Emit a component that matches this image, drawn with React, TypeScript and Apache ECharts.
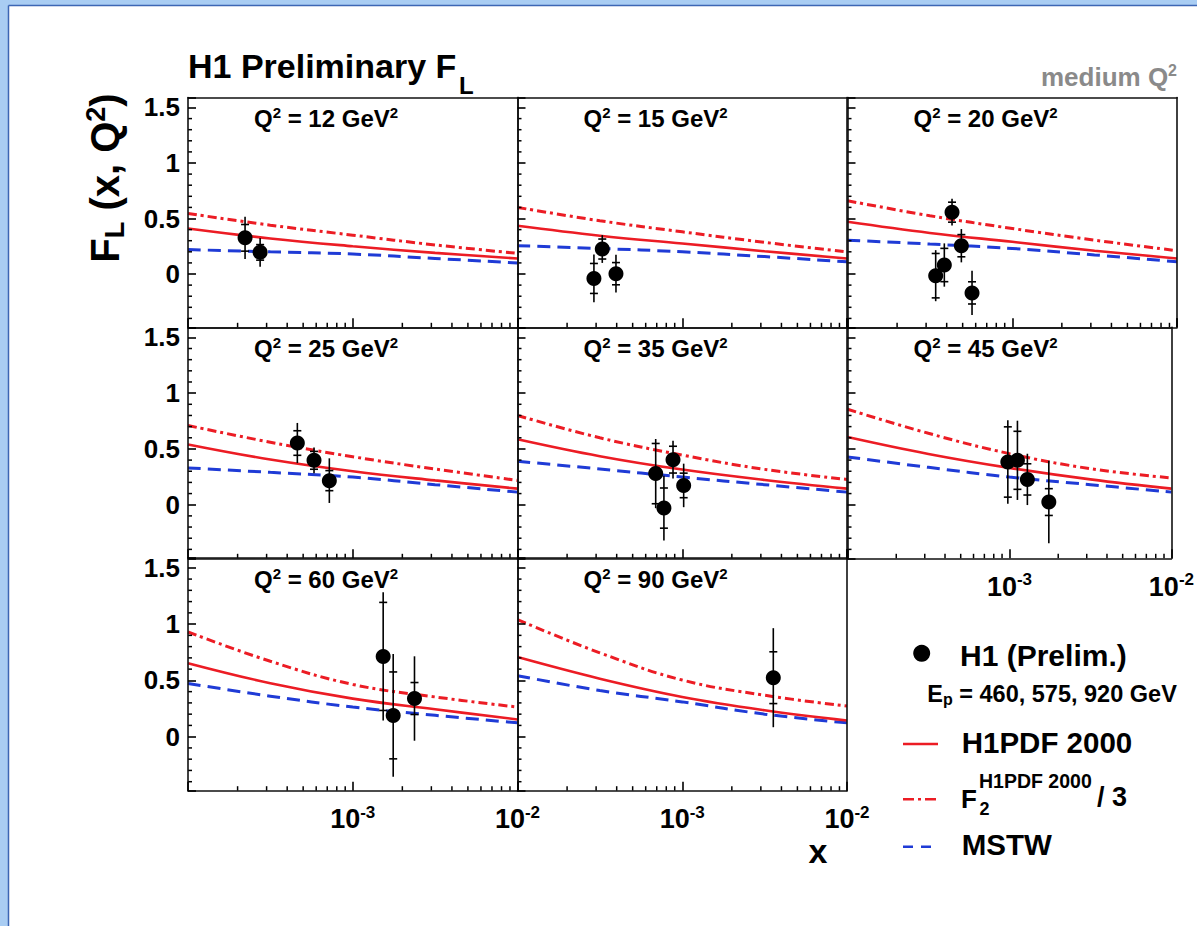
import React, { useEffect, useRef } from 'react';
import * as echarts from 'echarts';

const FONT = '"Liberation Sans", Arial, Helvetica, sans-serif';
const RED = '#ec1c24';
const BLUE = '#1f3bd6';

const q2Values = [12, 15, 20, 25, 35, 45, 60, 90];

// H1 preliminary points: [x, F_L, stat. error, total error]
const h1Q12 = [[2.22e-4, 0.326, 0.12, 0.19], [2.74e-4, 0.195, 0.07, 0.13]];
const h1Q15 = [[2.91e-4, -0.04, 0.135, 0.215], [3.27e-4, 0.225, 0.09, 0.125], [3.96e-4, 0.003, 0.1, 0.17]];
const h1Q20 = [[3.43e-4, -0.015, 0.2, 0.23], [3.87e-4, 0.081, 0.15, 0.195], [4.31e-4, 0.557, 0.09, 0.12], [4.91e-4, 0.255, 0.1, 0.15], [5.7e-4, -0.17, 0.1, 0.2]];
const h1Q25 = [[4.61e-4, 0.553, 0.11, 0.18], [5.82e-4, 0.398, 0.08, 0.115], [7.21e-4, 0.216, 0.09, 0.2]];
const h1Q35 = [[6.9e-4, 0.279, 0.27, 0.31], [7.74e-4, -0.03, 0.18, 0.29], [8.79e-4, 0.404, 0.12, 0.17], [1.02e-3, 0.173, 0.11, 0.195]];
const h1Q45 = [[9.77e-4, 0.383, 0.315, 0.375], [1.12e-3, 0.398, 0.26, 0.355], [1.29e-3, 0.227, 0.14, 0.23], [1.75e-3, 0.024, 0.12, 0.37]];
const h1Q60 = [[1.53e-3, 0.713, 0.48, 0.57], [1.76e-3, 0.189, 0.386, 0.545], [2.37e-3, 0.339, 0.142, 0.375]];
const h1Q90 = [[3.57e-3, 0.524, 0.23, 0.44]];

// theory curves sampled at curveX
const curveX = [1e-4, 3.16e-4, 1e-3, 3.16e-3, 1e-2];
const h1pdfQ12 = [0.41, 0.32, 0.25, 0.19, 0.14];
const h1pdfQ15 = [0.434, 0.345, 0.275, 0.205, 0.14];
const h1pdfQ20 = [0.47, 0.37, 0.29, 0.21, 0.14];
const h1pdfQ25 = [0.54, 0.405, 0.3, 0.218, 0.144];
const h1pdfQ35 = [0.587, 0.435, 0.315, 0.222, 0.144];
const h1pdfQ45 = [0.607, 0.455, 0.33, 0.227, 0.144];
const h1pdfQ60 = [0.653, 0.475, 0.338, 0.243, 0.153];
const h1pdfQ90 = [0.707, 0.515, 0.353, 0.235, 0.144];

const f2ThirdQ12 = [0.545, 0.44, 0.35, 0.262, 0.186];
const f2ThirdQ15 = [0.6, 0.48, 0.38, 0.285, 0.2];
const f2ThirdQ20 = [0.66, 0.525, 0.41, 0.305, 0.21];
const f2ThirdQ25 = [0.71, 0.56, 0.43, 0.32, 0.218];
const f2ThirdQ35 = [0.8, 0.6, 0.445, 0.317, 0.227];
const f2ThirdQ45 = [0.856, 0.64, 0.458, 0.323, 0.24];
const f2ThirdQ60 = [0.93, 0.67, 0.464, 0.353, 0.263];
const f2ThirdQ90 = [1.04, 0.745, 0.503, 0.368, 0.272];

const mstwQ12 = [0.22, 0.2, 0.18, 0.14, 0.1];
const mstwQ15 = [0.255, 0.23, 0.2, 0.157, 0.11];
const mstwQ20 = [0.305, 0.27, 0.23, 0.172, 0.11];
const mstwQ25 = [0.33, 0.29, 0.248, 0.18, 0.113];
const mstwQ35 = [0.39, 0.32, 0.248, 0.18, 0.113];
const mstwQ45 = [0.428, 0.335, 0.248, 0.18, 0.113];
const mstwQ60 = [0.473, 0.36, 0.263, 0.19, 0.123];
const mstwQ90 = [0.542, 0.41, 0.309, 0.2, 0.123];

const xMinorTicks = [2e-4, 3e-4, 4e-4, 5e-4, 6e-4, 7e-4, 8e-4, 9e-4, 2e-3, 3e-3, 4e-3, 5e-3, 6e-3, 7e-3, 8e-3, 9e-3];
const yMinorTicks = [-0.4, -0.3, -0.2, -0.1, 0.1, 0.2, 0.3, 0.4, 0.6, 0.7, 0.8, 0.9, 1.1, 1.2, 1.3, 1.4];

const X_MIN = 1e-4;
const X_MAX = 1e-2;
const Y_MIN = -0.48;
const Y_MAX = 1.59;

const panelPoints = [h1Q12, h1Q15, h1Q20, h1Q25, h1Q35, h1Q45, h1Q60, h1Q90];
const panelH1pdf = [h1pdfQ12, h1pdfQ15, h1pdfQ20, h1pdfQ25, h1pdfQ35, h1pdfQ45, h1pdfQ60, h1pdfQ90];
const panelF2 = [f2ThirdQ12, f2ThirdQ15, f2ThirdQ20, f2ThirdQ25, f2ThirdQ35, f2ThirdQ45, f2ThirdQ60, f2ThirdQ90];
const panelMstw = [mstwQ12, mstwQ15, mstwQ20, mstwQ25, mstwQ35, mstwQ45, mstwQ60, mstwQ90];

const colLeft = [188, 517.5, 847.5];
const colWidth = 329.5;
const rowTop = [97.5, 327.3, 557.7];
const rowHeight = [229.8, 231, 233];

function txt(x: number, y: number, text: string, size: number, extra: any = {}) {
  return {
    type: 'text',
    x,
    y,
    silent: true,
    style: {
      text,
      fill: '#000',
      fontSize: size,
      fontWeight: 'bold',
      fontFamily: FONT,
      align: 'left',
      verticalAlign: 'middle',
      textAlign: 'left',
      textVerticalAlign: 'middle',
      ...extra,
    },
  };
}

export default function App() {
  const ref = useRef<HTMLDivElement>(null);
  useEffect(() => {
    if (!ref.current) return;
    const chart = echarts.init(ref.current, null, { renderer: 'svg' });
    const grids: any[] = [];
    const xAxes: any[] = [];
    const yAxes: any[] = [];
    const series: any[] = [];
    const graphics: any[] = [];

    const tickStyle = { color: '#000', width: 1.6 };
    const frameLine = { show: true, onZero: false, lineStyle: { color: '#111', width: 1.6 } };
    const n = q2Values.length;

    q2Values.forEach((q2, i) => {
      const r = Math.floor(i / 3);
      const c = i % 3;
      grids.push({
        left: colLeft[c],
        top: rowTop[r],
        width: colWidth,
        height: rowHeight[r],
        show: false,
      });
      const showX = r === 2 || i === 5;
      xAxes[i] = {
        type: 'log',
        logBase: 10,
        min: X_MIN,
        max: X_MAX,
        gridIndex: i,
        position: 'bottom',
        z: 6,
        axisLine: frameLine,
        splitLine: { show: false },
        axisTick: { show: true, inside: true, length: 9, lineStyle: tickStyle },
        axisLabel: {
          show: showX,
          margin: 13,
          formatter: (v: number) => {
            const e = Math.round(Math.log10(v));
            if (e <= -4) return '';
            return `{b|10}{s|${e}}`;
          },
          rich: {
            b: { fontSize: 27, fontWeight: 'bold', fontFamily: FONT, color: '#000', lineHeight: 31 },
            s: { fontSize: 17, fontWeight: 'bold', fontFamily: FONT, color: '#000', lineHeight: 16, verticalAlign: 'top' },
          },
        },
      };
      // top frame edge
      xAxes[n + i] = {
        type: 'value',
        min: 0,
        max: 1,
        gridIndex: i,
        position: 'top',
        z: 6,
        axisLine: frameLine,
        axisTick: { show: false },
        axisLabel: { show: false },
        splitLine: { show: false },
      };
      yAxes[i] = {
        type: 'value',
        min: Y_MIN,
        max: Y_MAX,
        splitNumber: 4,
        gridIndex: i,
        position: 'left',
        z: 6,
        axisLine: frameLine,
        splitLine: { show: false },
        axisTick: { show: true, inside: true, length: 8, lineStyle: tickStyle },
        axisLabel: {
          show: c === 0,
          margin: 8,
          padding: [5, 0, 0, 0],
          fontSize: 26,
          fontWeight: 'bold',
          fontFamily: FONT,
          color: '#000',
          formatter: (v: number) => {
            const rr = Math.round(v * 2) / 2;
            if (Math.abs(v - rr) > 1e-6) return '';
            return String(rr);
          },
        },
      };
      // right frame edge
      yAxes[n + i] = {
        type: 'value',
        min: 0,
        max: 1,
        gridIndex: i,
        position: 'right',
        z: 6,
        axisLine: frameLine,
        axisTick: { show: false },
        axisLabel: { show: false },
        splitLine: { show: false },
      };

      const ax = { xAxisIndex: i, yAxisIndex: i };
      // minor ticks (log decades on x, 0.1 steps on y)
      series.push({
        type: 'custom',
        ...ax,
        silent: true,
        clip: false,
        z: 6,
        encode: { x: 0, y: 1 },
        data: xMinorTicks.map((v) => [v, 0.5]),
        renderItem: (params: any, api: any) => {
          const pt = api.coord([api.value(0), api.value(1)]);
          const cs = params.coordSys;
          const yb = cs.y + cs.height;
          return {
            type: 'line',
            shape: { x1: pt[0], y1: yb, x2: pt[0], y2: yb - 4.5 },
            style: { stroke: '#000', lineWidth: 1.5 },
          };
        },
      });
      series.push({
        type: 'custom',
        ...ax,
        silent: true,
        clip: false,
        z: 6,
        encode: { x: 0, y: 1 },
        data: yMinorTicks.map((v) => [1e-3, v]),
        renderItem: (params: any, api: any) => {
          const pt = api.coord([api.value(0), api.value(1)]);
          const cs = params.coordSys;
          const xl = cs.x;
          return {
            type: 'line',
            shape: { x1: xl, y1: pt[1], x2: xl + 4, y2: pt[1] },
            style: { stroke: '#000', lineWidth: 1.5 },
          };
        },
      });
      // theory curves
      series.push({
        type: 'line',
        ...ax,
        data: curveX.map((x, k) => [x, panelMstw[i][k]]),
        smooth: 0.4,
        showSymbol: false,
        symbol: 'none',
        lineStyle: { color: BLUE, width: 3, type: [13, 7] },
        z: 2,
      });
      series.push({
        type: 'line',
        ...ax,
        data: curveX.map((x, k) => [x, panelF2[i][k]]),
        smooth: 0.4,
        showSymbol: false,
        symbol: 'none',
        lineStyle: { color: RED, width: 3, type: [9, 4, 3, 4] },
        z: 2,
      });
      series.push({
        type: 'line',
        ...ax,
        data: curveX.map((x, k) => [x, panelH1pdf[i][k]]),
        smooth: 0.4,
        showSymbol: false,
        symbol: 'none',
        lineStyle: { color: RED, width: 2.6 },
        z: 2,
      });
      // error bars
      series.push({
        type: 'custom',
        ...ax,
        silent: true,
        z: 3,
        data: panelPoints[i],
        encode: { x: 0, y: 1 },
        renderItem: (_p: any, api: any) => {
          const x = api.value(0);
          const y = api.value(1);
          const st = api.value(2);
          const tot = api.value(3);
          const t = api.coord([x, y + tot]);
          const b = api.coord([x, y - tot]);
          const s1 = api.coord([x, y + st]);
          const s2 = api.coord([x, y - st]);
          const style = { stroke: '#000', lineWidth: 1.6 };
          return {
            type: 'group',
            children: [
              { type: 'line', shape: { x1: t[0], y1: t[1], x2: b[0], y2: b[1] }, style },
              { type: 'line', shape: { x1: s1[0] - 4, y1: s1[1], x2: s1[0] + 4, y2: s1[1] }, style },
              { type: 'line', shape: { x1: s2[0] - 4, y1: s2[1], x2: s2[0] + 4, y2: s2[1] }, style },
            ],
          };
        },
      });
      series.push({
        type: 'scatter',
        ...ax,
        data: panelPoints[i].map((p) => [p[0], p[1]]),
        symbol: 'circle',
        symbolSize: 15,
        itemStyle: { color: '#000', opacity: 1 },
        z: 4,
      });

      const labelY = [118, 348.5, 579][r];
      graphics.push(
        txt(colLeft[c] + 66, labelY, `{a|Q}{s|2}{a| = ${q2} GeV}{s|2}`, 24, {
          rich: {
            a: { fontSize: 24, fontWeight: 'bold', fontFamily: FONT, fill: '#000', lineHeight: 27 },
            s: { fontSize: 15, fontWeight: 'bold', fontFamily: FONT, fill: '#000', lineHeight: 18, verticalAlign: 'top' },
          },
        })
      );
    });

    // page frame
    const bg = [
      { type: 'rect', shape: { x: 0, y: 0, width: 1197, height: 6 }, style: { fill: '#a9cdf3' }, silent: true, z: -10 },
      { type: 'rect', shape: { x: 0, y: 0, width: 9, height: 926 }, style: { fill: '#a9cdf3' }, silent: true, z: -10 },
      { type: 'line', shape: { x1: 8.5, y1: 5.5, x2: 1197, y2: 5.5 }, style: { stroke: '#3c66b4', lineWidth: 1.5 }, silent: true, z: -9 },
      { type: 'line', shape: { x1: 8.5, y1: 5.5, x2: 8.5, y2: 926 }, style: { stroke: '#3c66b4', lineWidth: 1.5 }, silent: true, z: -9 },
    ];

    const legend = [
      { type: 'circle', shape: { cx: 921.7, cy: 653.3, r: 8.5 }, style: { fill: '#000' }, silent: true },
      txt(960, 655, 'H1 (Prelim.)', 30),
      txt(927.3, 694, '{a|E}{p|p}{a| = 460, 575, 920 GeV}', 23.5, {
        rich: {
          a: { fontSize: 23.5, fontWeight: 'bold', fontFamily: FONT, fill: '#000', lineHeight: 27 },
          p: { fontSize: 16, fontWeight: 'bold', fontFamily: FONT, fill: '#000', lineHeight: 14, verticalAlign: 'bottom' },
        },
      }),
      { type: 'line', shape: { x1: 903, y1: 744, x2: 938, y2: 744 }, style: { stroke: RED, lineWidth: 2.6 }, silent: true },
      txt(961.7, 742.5, 'H1PDF 2000', 29.5),
      { type: 'line', shape: { x1: 903, y1: 799.3, x2: 938, y2: 799.3 }, style: { stroke: RED, lineWidth: 2.6, lineDash: [11, 4, 3, 4] }, silent: true },
      txt(961, 799.2, 'F', 26),
      txt(979, 781.3, 'H1PDF 2000', 19.5),
      txt(979.5, 808.8, '2', 18),
      txt(1097, 797, '/ 3', 27),
      { type: 'line', shape: { x1: 903, y1: 846.7, x2: 938, y2: 846.7 }, style: { stroke: BLUE, lineWidth: 2.6, lineDash: [10, 8] }, silent: true },
      txt(961.7, 844, 'MSTW', 29.5),
    ];

    const titles = [
      txt(188, 66, 'H1 Preliminary F', 34),
      txt(459, 85.7, 'L', 24),
      txt(1177, 77, '{a|medium Q}{s|2}', 26, {
        align: 'right',
        textAlign: 'right',
        rich: {
          a: { fontSize: 26, fontWeight: 'bold', fontFamily: FONT, fill: '#8a8a8a', lineHeight: 30 },
          s: { fontSize: 16, fontWeight: 'bold', fontFamily: FONT, fill: '#8a8a8a', lineHeight: 16, verticalAlign: 'top' },
        },
      }),
      txt(818, 851, 'x', 34, { align: 'center', textAlign: 'center' }),
      {
        ...txt(105, 178, '{a|F}{b|L}{a| (x, Q}{c|2}{a|)}', 40, {
          align: 'center',
          textAlign: 'center',
          rich: {
            a: { fontSize: 40, fontWeight: 'bold', fontFamily: FONT, fill: '#000', lineHeight: 46 },
            b: { fontSize: 27, fontWeight: 'bold', fontFamily: FONT, fill: '#000', lineHeight: 24, verticalAlign: 'bottom' },
            c: { fontSize: 27, fontWeight: 'bold', fontFamily: FONT, fill: '#000', lineHeight: 26, verticalAlign: 'top' },
          },
        }),
        rotation: Math.PI / 2,
      },
    ];

    chart.setOption({
      animation: false,
      backgroundColor: '#ffffff',
      grid: grids,
      xAxis: xAxes,
      yAxis: yAxes,
      series,
      graphic: { elements: [...bg, ...graphics, ...legend, ...titles] },
    });
    return () => chart.dispose();
  }, []);
  return <div ref={ref} style={{ position: 'fixed', left: 0, top: 0, width: 1197, height: 926 }} />;
}
